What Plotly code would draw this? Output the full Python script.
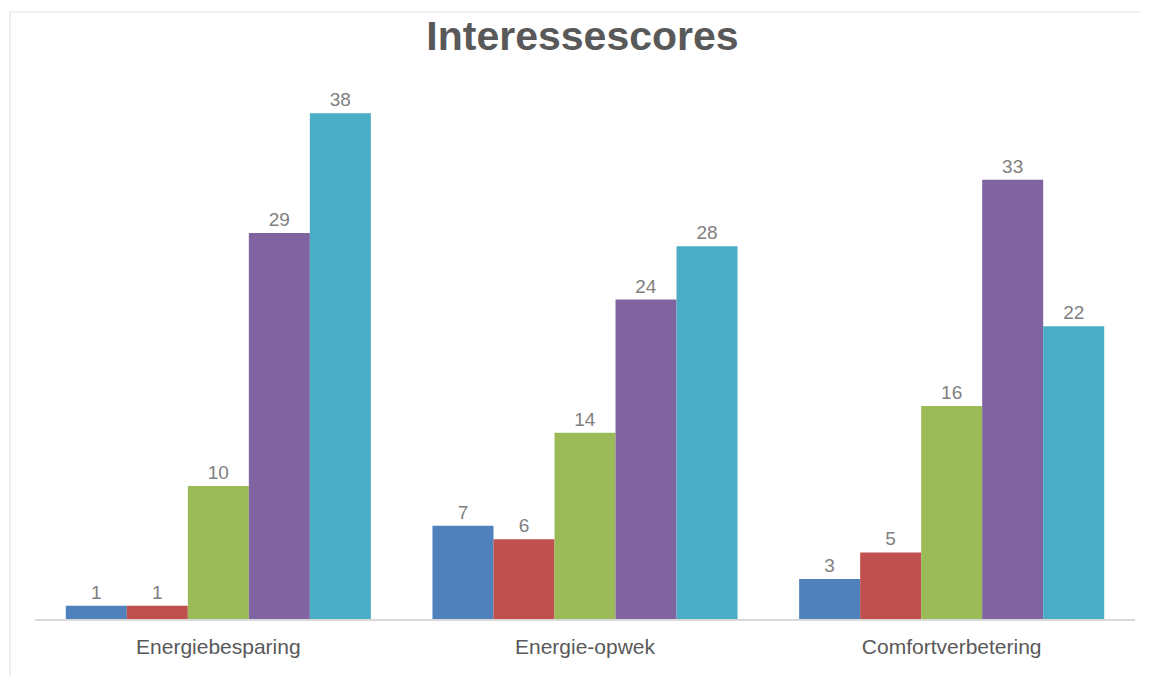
import plotly.graph_objects as go

categories = ["Energiebesparing", "Energie-opwek", "Comfortverbetering"]
series_names = ["Score 1", "Score 2", "Score 3", "Score 4", "Score 5"]
values_1 = [1, 7, 3]
values_2 = [1, 6, 5]
values_3 = [10, 14, 16]
values_4 = [29, 24, 33]
values_5 = [38, 28, 22]
colors = ["#4F81BD", "#C0504D", "#9BBB59", "#8064A2", "#4BACC6"]

all_values = [values_1, values_2, values_3, values_4, values_5]

fig = go.Figure()
for name, vals, col in zip(series_names, all_values, colors):
    fig.add_trace(go.Bar(
        x=categories, y=vals, name=name,
        marker=dict(color=col, line=dict(width=0)),
        text=[str(v) for v in vals], textposition="outside",
        textfont=dict(family="Liberation Sans, Arial", size=19, color="#808080"),
        cliponaxis=False, hoverinfo="skip",
    ))

fig.update_layout(
    width=1149, height=676,
    margin=dict(l=27, r=22, t=72, b=65),
    paper_bgcolor="white", plot_bgcolor="white",
    barmode="group", bargap=0.168, bargroupgap=0,
    showlegend=False,
    title=dict(text="<b>Interessescores</b>", x=0.5, xanchor="center",
               y=1 - 28 / 676, yanchor="middle",
               font=dict(family="Liberation Sans, Arial", size=41, color="#595959")),
    xaxis=dict(showline=True, linecolor="#D9D9D9", linewidth=1.5,
               ticks="outside", ticklen=8, tickcolor="rgba(0,0,0,0)",
               tickfont=dict(family="Liberation Sans, Arial", size=21, color="#595959"),
               showgrid=False, zeroline=False),
    yaxis=dict(range=[0, 40.5], visible=False, showgrid=False, zeroline=False),
    font=dict(family="Liberation Sans, Arial"),
)

fig.add_shape(type="rect", xref="paper", yref="paper",
              x0=(2 - 27) / 1100, x1=(1160 - 27) / 1100,
              y0=(611 - 700) / 539, y1=(611 - 4) / 539,
              line=dict(color="#E3E3E3", width=1.2), fillcolor="rgba(0,0,0,0)",
              layer="below")

fig.write_html("out.html")
